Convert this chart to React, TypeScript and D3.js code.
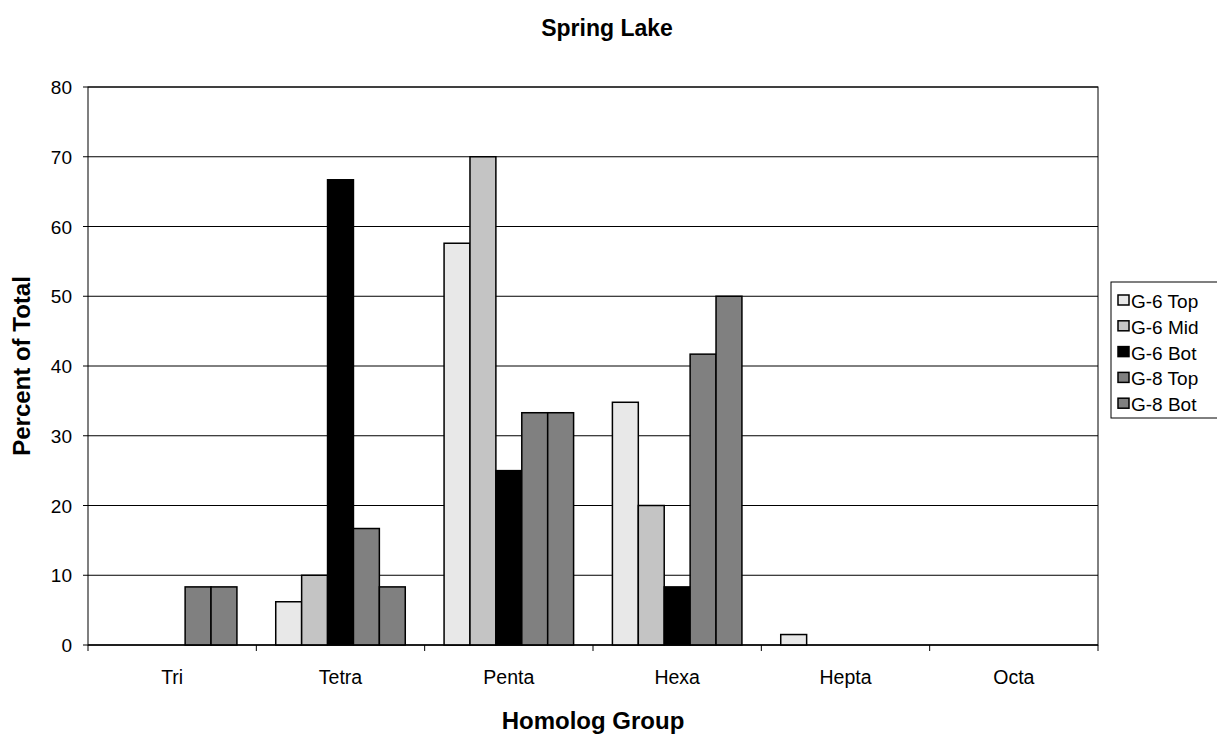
import React from "react";
import * as d3 from "d3";

const categories = ["Tri", "Tetra", "Penta", "Hexa", "Hepta", "Octa"];
const seriesNames = ["G-6 Top", "G-6 Mid", "G-6 Bot", "G-8 Top", "G-8 Bot"];
const seriesColors = ["#e8e8e8", "#c4c4c4", "#000000", "#808080", "#808080"];
const g6Top = [0, 6.2, 57.6, 34.8, 1.5, 0];
const g6Mid = [0, 10, 70, 20, 0, 0];
const g6Bot = [0, 66.7, 25, 8.33, 0, 0];
const g8Top = [8.33, 16.7, 33.3, 41.7, 0, 0];
const g8Bot = [8.33, 8.33, 33.3, 50, 0, 0];
const seriesValues = [g6Top, g6Mid, g6Bot, g8Top, g8Bot];
const yTicks = [0, 10, 20, 30, 40, 50, 60, 70, 80];

export default function App() {
  const W = 1217, H = 736;
  const left = 88, right = 1098, top = 87, bottom = 645;
  const font = "'Liberation Sans', Arial, sans-serif";
  const x0 = d3.scaleBand<string>().domain(categories).range([left, right]).paddingInner(0).paddingOuter(0);
  const groupW = x0.bandwidth() * (129.5 / 168.3);
  const x1 = d3.scaleBand<string>().domain(seriesNames).range([0, groupW]).padding(0);
  const y = d3.scaleLinear().domain([0, 80]).range([bottom, top]);

  return (
    <svg width={W} height={H} style={{ position: "absolute", left: 0, top: 0 }} fontFamily={font}>
      <rect x={0} y={0} width={W} height={H} fill="#fff" />
      <text x={607} y={36} textAnchor="middle" fontSize={23} fontWeight="bold">Spring Lake</text>
      {yTicks.map((t) => (
        <g key={t}>
          <line x1={left} x2={right} y1={y(t)} y2={y(t)} stroke="#000" strokeWidth={1} />
          <line x1={left - 5} x2={left} y1={y(t)} y2={y(t)} stroke="#000" />
          <text x={72} y={y(t) + 7} textAnchor="end" fontSize={19}>{t}</text>
        </g>
      ))}
      <rect x={left} y={top} width={right - left} height={bottom - top} fill="none" stroke="#000" strokeWidth={1} />
      {categories.map((c, ci) => {
        const gx = (x0(c) as number) + (x0.bandwidth() - groupW) / 2;
        return (
          <g key={c}>
            {seriesNames.map((s, si) => {
              const v = seriesValues[si][ci];
              if (!v) return null;
              return (
                <rect key={s} x={gx + (x1(s) as number)} y={y(v)} width={x1.bandwidth()} height={y(0) - y(v)}
                  fill={seriesColors[si]} stroke="#000" strokeWidth={1.5} />
              );
            })}
          </g>
        );
      })}
      {categories.map((c, ci) => (
        <line key={"t" + ci} x1={x0(c) as number} x2={x0(c) as number} y1={bottom} y2={bottom + 6} stroke="#000" />
      ))}
      <line x1={right} x2={right} y1={bottom} y2={bottom + 6} stroke="#000" />
      <line x1={left} x2={right} y1={bottom} y2={bottom} stroke="#000" />
      {categories.map((c) => (
        <text key={"l" + c} x={(x0(c) as number) + x0.bandwidth() / 2} y={684} textAnchor="middle" fontSize={19.5}>{c}</text>
      ))}
      <text x={593} y={729} textAnchor="middle" fontSize={24} fontWeight="bold">Homolog Group</text>
      <text transform={`translate(30,366) rotate(-90)`} textAnchor="middle" fontSize={24} fontWeight="bold">Percent of Total</text>
      <rect x={1111} y={282} width={110} height={136} fill="#fff" stroke="#000" strokeWidth={1} />
      {seriesNames.map((s, si) => {
        const ly = 301 + si * 25.8;
        return (
          <g key={"lg" + s}>
            <rect x={1118} y={ly - 6} width={11} height={10} fill={seriesColors[si]} stroke="#000" strokeWidth={1.5} />
            <text x={1131} y={ly + 7} fontSize={19}>{s}</text>
          </g>
        );
      })}
    </svg>
  );
}
